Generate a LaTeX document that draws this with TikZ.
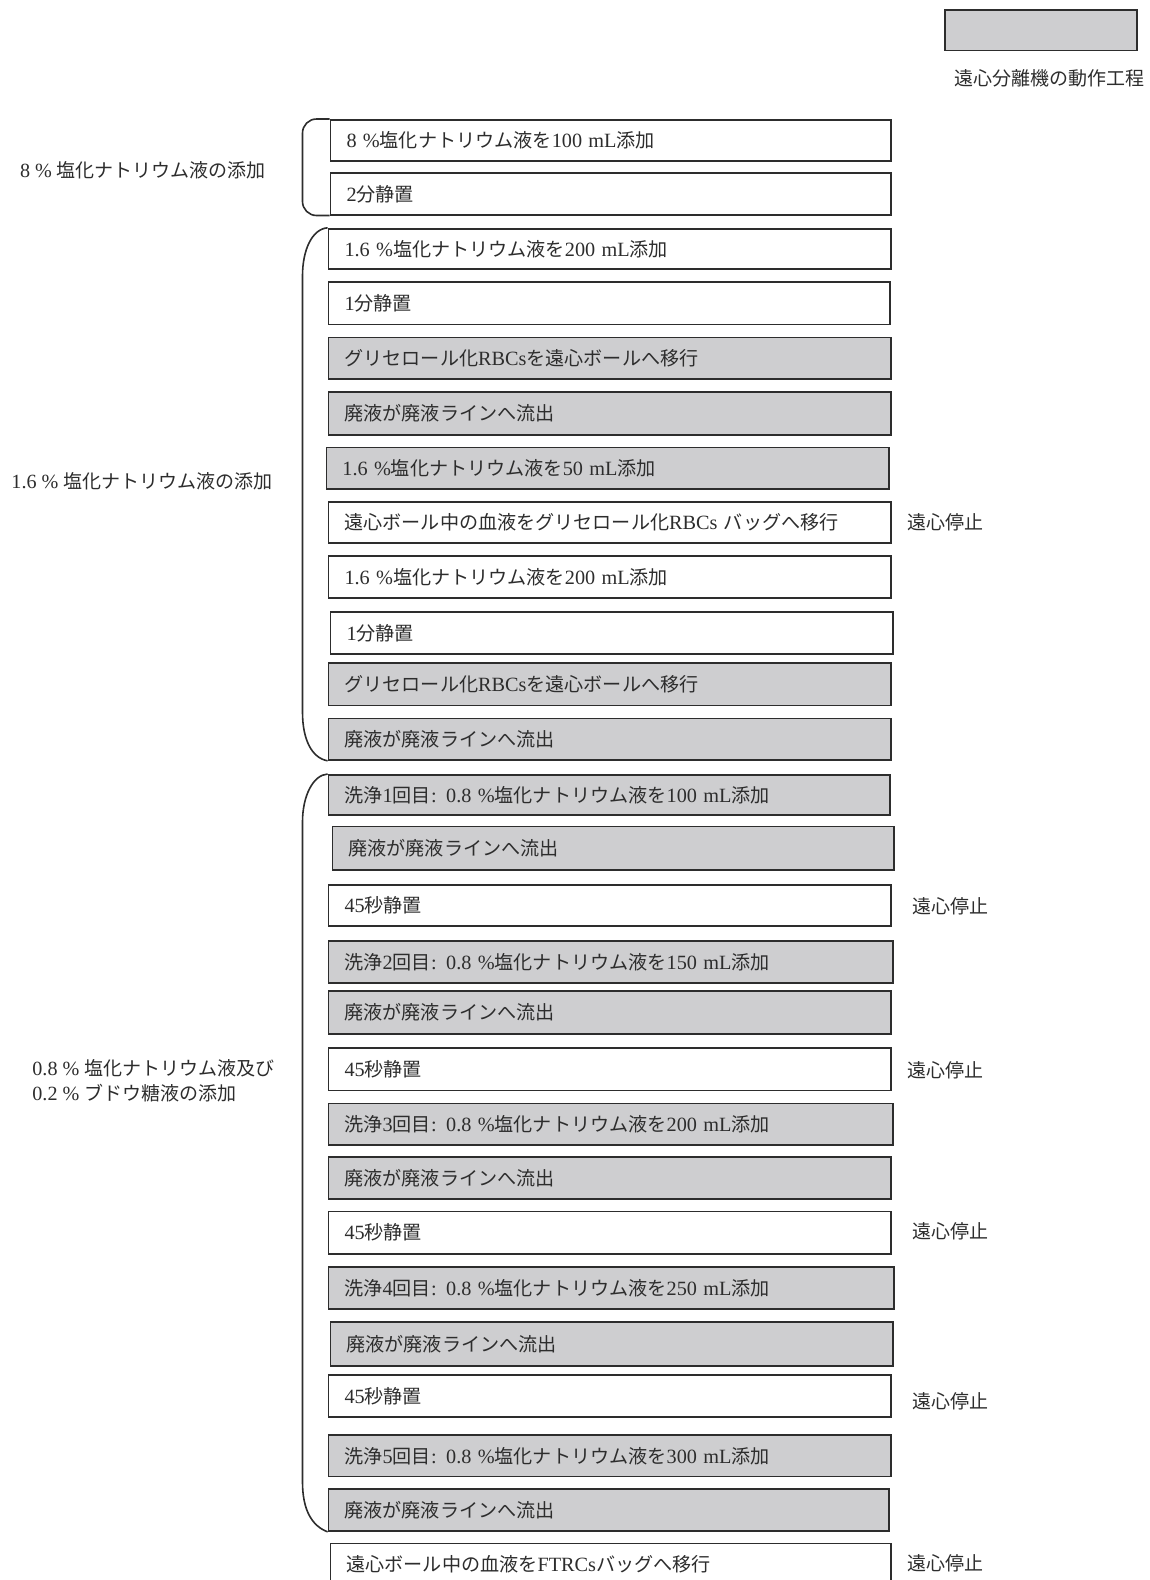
\documentclass[tikz,border=0pt]{standalone}
\usepackage{fontspec}
\setmainfont{Noto Sans CJK JP}
\newfontfamily\latinfont[Scale=1.06]{Liberation Serif}
\newfontfamily\jpfont{Noto Sans CJK JP}
\newcommand\lt[1]{{\latinfont #1}}
\definecolor{procgray}{RGB}{206,206,208}
\definecolor{ink}{RGB}{45,45,45}
\tikzset{
  basebox/.style={draw=ink, line width=0.9pt, rectangle, inner xsep=8pt, inner ysep=0pt, align=left, text=ink, font=\jpfont\fontsize{9.55}{11}\selectfont},
  wbox/.style={basebox, fill=white},
  gbox/.style={basebox, fill=procgray},
  lbl/.style={text=ink, font=\jpfont\fontsize{9.5}{12.5}\selectfont, inner sep=0pt},
  brk/.style={draw=ink, line width=0.8pt}
}
\newcommand\bx[7]{%
  \pgfmathsetmacro\bw{(#4-#2)*0.5}%
  \pgfmathsetmacro\bh{(#5-#3)*0.5}%
  \pgfmathsetmacro\tw{\bw-16}%
  \node[#6, anchor=north west, minimum width=\bw pt, minimum height=\bh pt, text width=\tw pt] (#1) at (#2,#3) {#7};}
\begin{document}
\begin{tikzpicture}[x=0.5pt, y=-0.5pt]
\useasboundingbox (0,0) rectangle (1150,1580);
\clip (0,0) rectangle (1150,1580);
% legend
\bx{leg}{944}{9}{1136}{49.5}{gbox}{}
\node[lbl] (legt) at (1049,78.5) {遠心分離機の動作工程};
% boxes
\bx{b1}{329.6}{119}{890}{160.3}{wbox}{\lt{8 \%}塩化ナトリウム液を\lt{100 mL}添加}
\bx{b2}{329.6}{172.3}{890}{213.7}{wbox}{\lt{2}分静置}
\bx{b3}{327.6}{227.8}{890}{268.1}{wbox}{\lt{1.6 \%}塩化ナトリウム液を\lt{200 mL}添加}
\bx{b4}{327.6}{281.2}{889}{323.5}{wbox}{\lt{1}分静置}
\bx{b5}{327.6}{336.6}{890}{378}{gbox}{グリセロール化\lt{RBCs}を遠心ボールへ移行}
\bx{b6}{327.6}{391}{890}{434.4}{gbox}{廃液が廃液ラインへ流出}
\bx{b7}{325.5}{446.5}{888}{487.8}{gbox}{\lt{1.6 \%}塩化ナトリウム液を\lt{50 mL}添加}
\bx{b8}{327.6}{500.9}{890}{542.2}{wbox}{遠心ボール中の血液をグリセロール化\lt{RBCs }バッグへ移行}
\bx{b9}{327.6}{555.4}{890}{596.7}{wbox}{\lt{1.6 \%}塩化ナトリウム液を\lt{200 mL}添加}
\bx{b10}{329.6}{610.8}{892}{653.1}{wbox}{\lt{1}分静置}
\bx{b11}{327.6}{662.2}{890}{704.5}{gbox}{グリセロール化\lt{RBCs}を遠心ボールへ移行}
\bx{b12}{327.6}{717.6}{890}{759}{gbox}{廃液が廃液ラインへ流出}
\bx{b13}{327.6}{774}{889}{814.4}{gbox}{洗浄\lt{1}回目\lt{: 0.8 \%}塩化ナトリウム液を\lt{100 mL}添加}
\bx{b14}{331.6}{825.5}{893}{868.8}{gbox}{廃液が廃液ラインへ流出}
\bx{b15}{327.6}{884}{890}{925.3}{wbox}{\lt{45}秒静置}
\bx{b16}{327.6}{940.4}{892}{981.7}{gbox}{洗浄\lt{2}回目\lt{: 0.8 \%}塩化ナトリウム液を\lt{150 mL}添加}
\bx{b17}{327.6}{989.8}{890}{1033}{gbox}{廃液が廃液ラインへ流出}
\bx{b18}{327.6}{1047.2}{890}{1089.5}{wbox}{\lt{45}秒静置}
\bx{b19}{327.6}{1102.6}{892}{1144}{gbox}{洗浄\lt{3}回目\lt{: 0.8 \%}塩化ナトリウム液を\lt{200 mL}添加}
\bx{b20}{327.6}{1156}{890}{1198.4}{gbox}{廃液が廃液ラインへ流出}
\bx{b21}{327.6}{1210.5}{890}{1252.8}{wbox}{\lt{45}秒静置}
\bx{b22}{327.6}{1266}{893}{1308.3}{gbox}{洗浄\lt{4}回目\lt{: 0.8 \%}塩化ナトリウム液を\lt{250 mL}添加}
\bx{b23}{329.6}{1321.4}{892}{1364.7}{gbox}{廃液が廃液ラインへ流出}
\bx{b24}{327.6}{1373.8}{890}{1416}{wbox}{\lt{45}秒静置}
\bx{b25}{327.6}{1434.2}{890}{1475.6}{gbox}{洗浄\lt{5}回目\lt{: 0.8 \%}塩化ナトリウム液を\lt{300 mL}添加}
\bx{b26}{327.6}{1487.7}{888}{1530}{gbox}{廃液が廃液ラインへ流出}
\bx{b27}{329.6}{1542.5}{890}{1584}{wbox}{遠心ボール中の血液を\lt{FTRCs}バッグへ移行}
% stop labels
\node[lbl] (s1) at (945,522) {遠心停止};
\node[lbl] (s2) at (950.5,906) {遠心停止};
\node[lbl] (s3) at (945,1070.4) {遠心停止};
\node[lbl] (s4) at (950.5,1231.7) {遠心停止};
\node[lbl] (s5) at (950.5,1401) {遠心停止};
\node[lbl] (s6) at (945,1563) {遠心停止};
% left labels
\node[lbl] (g1) at (143,170) {\lt{8 \% }塩化ナトリウム液の添加};
\node[lbl] (g2) at (142,481) {\lt{1.6 \% }塩化ナトリウム液の添加};
\node[lbl, anchor=west, align=left] (g3) at (32,1080.5) {\lt{0.8 \% }塩化ナトリウム液及び\\\lt{0.2 \% }ブドウ糖液の添加};
% brackets
\draw[brk, rounded corners=7pt] (b1.north west) -| (302.5,166) |- (b2.south west);
\draw[brk] (b3.north west) .. controls (312,229) and (302.5,250) .. (302.5,276)
  -- (302.5,712) .. controls (302.5,740) and (312,758) .. (b12.south west);
\draw[brk] (b13.north west) .. controls (313,775) and (302.5,796) .. (302.5,822)
  -- (302.5,1482) .. controls (302.5,1510) and (312,1526) .. (b26.south west);
\end{tikzpicture}
\end{document}
